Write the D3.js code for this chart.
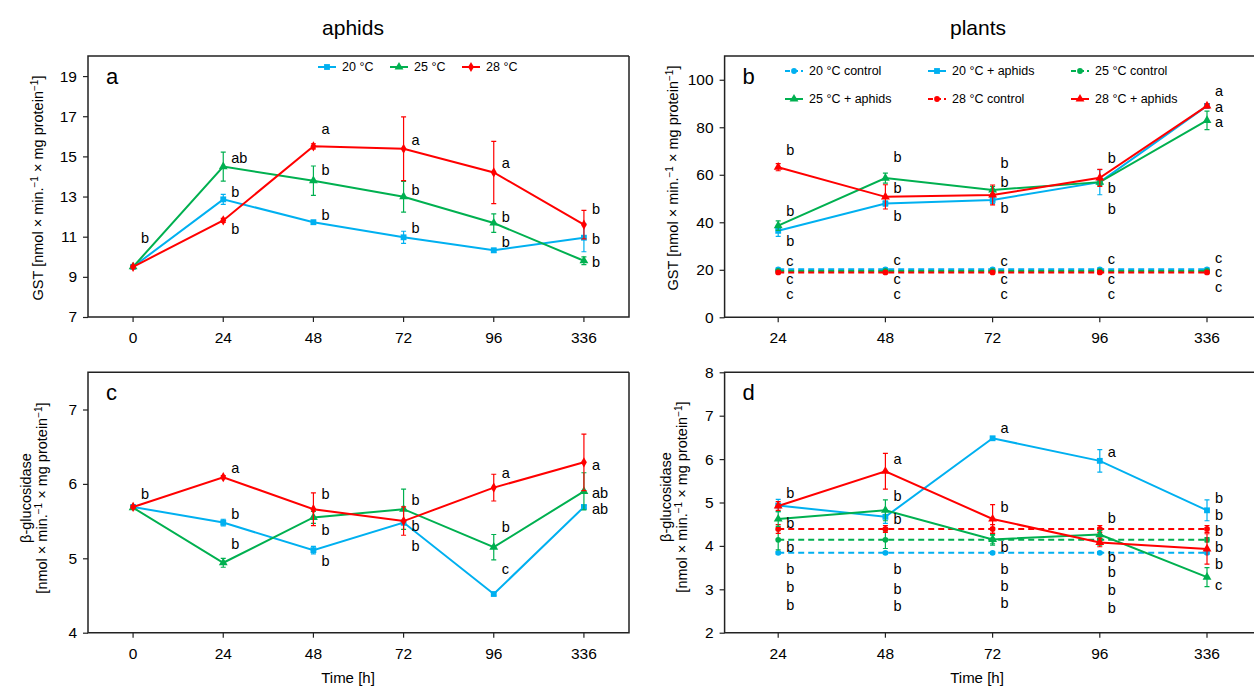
<!DOCTYPE html>
<meta charset="utf-8">
<style>
    body { margin: 0; background: #fff; }
    text { font-family: "Liberation Sans", Arial, sans-serif; fill: #000; }
    .tick text { font-size: 15px; }
    .lbl { font-size: 14.5px; }
    .leg { font-size: 12.5px; }
</style>
<body>
<svg id="chart" width="1254" height="689"></svg>
<script src="https://cdn.jsdelivr.net/npm/d3@7/dist/d3.min.js"></script>
<script>
    var aphidTimes = ["0", "24", "48", "72", "96", "336"];
    var plantTimes = ["24", "48", "72", "96", "336"];

    var blue = "#00b0f0", green = "#00b050", red = "#ff0000";

    // a: GST in aphids
    var gstAph20 = [9.5, 12.86, 11.72, 10.97, 10.32, 10.95];
    var gstAph20Err = [0.05, 0.25, 0.1, 0.3, 0.1, 0.7];
    var gstAph25 = [9.5, 14.49, 13.79, 12.99, 11.68, 9.8];
    var gstAph25Err = [0.05, 0.72, 0.73, 0.77, 0.46, 0.19];
    var gstAph28 = [9.5, 11.81, 15.5, 15.38, 14.2, 11.6];
    var gstAph28Err = [0.05, 0.1, 0.13, 1.59, 1.55, 0.71];
    var lettersA = [
        [["b", 10.92]],
        [["ab", 14.9], ["b", 13.21], ["b", 11.38]],
        [["a", 16.38], ["b", 14.32], ["b", 12.08]],
        [["a", 15.81], ["b", 13.32], ["b", 11.43]],
        [["a", 14.67], ["b", 11.98], ["b", 10.73]],
        [["b", 12.38], ["b", 10.88], ["b", 9.74]]
    ];

    // b: GST in plants
    var gstCtl20 = [20.2, 20.2, 20.2, 20.2, 20.2];
    var gstCtl20Err = [0.5, 0.5, 0.5, 0.5, 0.5];
    var gstCtl25 = [19.5, 19.5, 19.5, 19.5, 19.5];
    var gstCtl25Err = [0.5, 0.5, 0.5, 0.5, 0.5];
    var gstCtl28 = [18.9, 18.9, 18.9, 18.9, 18.9];
    var gstCtl28Err = [0.5, 0.5, 0.5, 0.5, 0.5];
    var gstPl20 = [36.4, 47.9, 49.4, 56.9, 89.0];
    var gstPl20Err = [2.3, 1.0, 1.5, 5.3, 0.8];
    var gstPl25 = [38.6, 58.6, 53.6, 56.9, 82.9];
    var gstPl25Err = [2.0, 2.1, 1.5, 1.5, 3.9];
    var gstPl28 = [63.2, 50.7, 51.5, 58.7, 89.0];
    var gstPl28Err = [1.5, 5.1, 4.2, 3.6, 0.8];
    var lettersB = [
        [["b", 70.5], ["b", 44.7], ["b", 32.2], ["c", 23.6], ["c", 16.0], ["c", 9.8]],
        [["b", 67.7], ["b", 54.6], ["b", 42.8], ["c", 24.1], ["c", 16.0], ["c", 9.8]],
        [["b", 64.9], ["b", 56.9], ["b", 46.1], ["c", 23.6], ["c", 16.0], ["c", 9.8]],
        [["b", 67.0], ["b", 54.6], ["b", 45.6], ["c", 24.4], ["c", 16.0], ["c", 9.8]],
        [["a", 95.1], ["a", 88.5], ["a", 82.2], ["c", 25.2], ["c", 19.0], ["c", 12.6]]
    ];

    // c: beta-glucosidase in aphids
    var gluAph20 = [5.69, 5.48, 5.11, 5.48, 4.52, 5.69];
    var gluAph20Err = [0.02, 0.045, 0.05, 0.03, 0.02, 0.02];
    var gluAph25 = [5.68, 4.94, 5.55, 5.66, 5.15, 5.9];
    var gluAph25Err = [0.02, 0.06, 0.08, 0.27, 0.17, 0.25];
    var gluAph28 = [5.69, 6.09, 5.66, 5.5, 5.95, 6.29];
    var gluAph28Err = [0.02, 0.02, 0.22, 0.19, 0.18, 0.38];
    var lettersC = [
        [["b", 5.86]],
        [["a", 6.21], ["b", 5.6], ["b", 5.19]],
        [["b", 5.86], ["b", 5.38], ["b", 4.96]],
        [["b", 5.79], ["b", 5.43], ["b", 5.16]],
        [["a", 6.15], ["b", 5.42], ["c", 4.86]],
        [["a", 6.26], ["ab", 5.88], ["ab", 5.66]]
    ];

    // d: beta-glucosidase in plants
    var gluCtl20 = [3.84, 3.84, 3.84, 3.84, 3.84];
    var gluCtl20Err = [0.03, 0.03, 0.03, 0.03, 0.03];
    var gluCtl25 = [4.14, 4.14, 4.14, 4.14, 4.14];
    var gluCtl25Err = [0.23, 0.2, 0.12, 0.12, 0.05];
    var gluCtl28 = [4.39, 4.39, 4.39, 4.39, 4.39];
    var gluCtl28Err = [0.1, 0.08, 0.1, 0.08, 0.08];
    var gluPl20 = [4.93, 4.67, 6.48, 5.96, 4.82];
    var gluPl20Err = [0.14, 0.15, 0.03, 0.26, 0.24];
    var gluPl25 = [4.62, 4.82, 4.15, 4.26, 3.28];
    var gluPl25Err = [0.17, 0.24, 0.1, 0.1, 0.22];
    var gluPl28 = [4.92, 5.72, 4.62, 4.08, 3.93];
    var gluPl28Err = [0.1, 0.41, 0.33, 0.1, 0.35];
    var lettersD = [
        [["b", 5.21], ["b", 4.52], ["b", 3.98], ["b", 3.48], ["b", 3.05], ["b", 2.64]],
        [["a", 6.0], ["b", 5.15], ["b", 4.62], ["b", 3.47], ["b", 3.02], ["b", 2.62]],
        [["a", 6.71], ["b", 4.9], ["b", 3.98], ["b", 3.48], ["b", 3.08], ["b", 2.68]],
        [["a", 6.17], ["b", 4.64], ["b", 3.75], ["b", 3.39], ["b", 2.98], ["b", 2.56]],
        [["b", 5.1], ["b", 4.71], ["b", 4.34], ["b", 3.97], ["b", 3.58], ["c", 3.1]]
    ];

    var svg = d3.select("#chart");

    function ser(name, vals, err, color, shape, dashed) {
        return { name: name, vals: vals, err: err, color: color, shape: shape, dashed: dashed };
    }

    var shapes = {
        square: d3.symbol().type(d3.symbolSquare).size(34),
        triangle: d3.symbol().type(d3.symbolTriangle).size(34),
        diamond: d3.symbol().type(d3.symbolDiamond).size(30),
        circle: d3.symbol().type(d3.symbolCircle).size(26)
    };

    function drawPanel(p) {
        var x = d3.scaleBand().domain(p.cats).range([p.left, p.right]);
        var y = d3.scaleLinear().domain(p.yDomain).range([p.bottom, p.top]);
        var cx = function(i) { return x(p.cats[i]) + x.bandwidth() / 2; };
        var g = svg.append("g");

        g.append("g")
            .attr("transform", "translate(" + p.left + ",0)")
            .call(d3.axisLeft(y).tickValues(p.yTicks).tickFormat(d3.format("d")).tickSize(5).tickPadding(6))
            .call(function(a) { a.select(".domain").remove(); });
        g.append("g")
            .attr("transform", "translate(0," + p.bottom + ")")
            .call(d3.axisBottom(x).tickSize(5).tickPadding(10))
            .call(function(a) { a.select(".domain").remove(); });
        g.selectAll(".tick line").attr("stroke", "#222").attr("stroke-width", 1.2);
        g.selectAll(".tick text").style("font-size", "15.5px").attr("fill", "#000");

        g.append("path")
            .attr("d", "M" + p.right + "," + p.top + "H" + p.left + "V" + p.bottom + "H" + p.right + (p.closed ? "V" + p.top : ""))
            .attr("fill", "none").attr("stroke", "#222").attr("stroke-width", 1.5);

        var line = d3.line().x(function(d, i) { return cx(i); }).y(function(d) { return y(d); });

        p.series.forEach(function(s) {
            var sg = g.append("g");
            sg.append("path")
                .attr("d", line(s.vals))
                .attr("fill", "none")
                .attr("stroke", s.color)
                .attr("stroke-width", 2)
                .attr("stroke-dasharray", s.dashed ? "6,4" : null);
            s.vals.forEach(function(v, i) {
                var e = s.err[i];
                sg.append("path")
                    .attr("d", "M" + (cx(i) - 2.5) + "," + y(v + e) + "h5M" + cx(i) + "," + y(v + e) + "V" + y(v - e) + "M" + (cx(i) - 2.5) + "," + y(v - e) + "h5")
                    .attr("stroke", s.color).attr("stroke-width", 1.2).attr("fill", "none");
            });
            sg.selectAll("path.m")
                .data(s.vals)
                .enter().append("path")
                .attr("class", "m")
                .attr("d", shapes[s.shape])
                .attr("transform", function(d, i) { return "translate(" + cx(i) + "," + y(d) + ")"; })
                .attr("fill", s.color);
        });

        p.letters.forEach(function(list, i) {
            list.forEach(function(l) {
                g.append("text")
                    .attr("class", "lbl")
                    .attr("x", cx(i) + 8)
                    .attr("y", y(l[1]))
                    .attr("dy", "0.35em")
                    .text(l[0]);
            });
        });

        g.append("text")
            .attr("x", p.left + 18)
            .attr("y", p.top + 20)
            .attr("dy", "0.35em")
            .style("font-size", "22px")
            .text(p.tag);

        // legend
        p.legend.forEach(function(it) {
            var s = it.s;
            var lg = g.append("g").attr("transform", "translate(" + it.x + "," + it.y + ")");
            lg.append("line").attr("x1", 0).attr("x2", 18).attr("y1", 0).attr("y2", 0)
                .attr("stroke", s.color).attr("stroke-width", 2)
                .attr("stroke-dasharray", s.dashed ? "5,3" : null);
            lg.append("path").attr("d", shapes[s.shape]).attr("transform", "translate(9,0)").attr("fill", s.color);
            lg.append("text").attr("class", "leg").attr("x", 24).attr("dy", "0.35em").text(s.name);
        });
    }

    function yLabel(lines, x, y) {
        var t = svg.append("text")
            .attr("transform", "translate(" + x + "," + y + ") rotate(-90)")
            .attr("text-anchor", "middle")
            .style("font-size", "14.5px");
        lines.forEach(function(parts, k) {
            var first = true;
            parts.forEach(function(pt) {
                var ts = t.append("tspan").text(pt[0]);
                if (first) { ts.attr("x", 0).attr("dy", k === 0 ? (lines.length > 1 ? "-0.3em" : "0.35em") : "1.15em"); first = false; }
                if (pt[1]) {
                    ts.style("font-size", "10px").attr("baseline-shift", "super");
                }
            });
        });
    }

    var unitParts = [["[nmol × min."], ["−1", true], [" × mg protein"], ["−1", true], ["]"]];

    var a20 = ser("20 °C", gstAph20, gstAph20Err, blue, "square"),
        a25 = ser("25 °C", gstAph25, gstAph25Err, green, "triangle"),
        a28 = ser("28 °C", gstAph28, gstAph28Err, red, "diamond");
    drawPanel({
        left: 88, right: 629, top: 56, bottom: 317, closed: true,
        cats: aphidTimes, yDomain: [7, 20], yTicks: [7, 9, 11, 13, 15, 17, 19],
        series: [a20, a25, a28], letters: lettersA, tag: "a",
        legend: [{ s: a20, x: 318, y: 67 }, { s: a25, x: 390, y: 67 }, { s: a28, x: 462, y: 67 }]
    });

    var b20c = ser("20 °C control", gstCtl20, gstCtl20Err, blue, "circle", true),
        b25c = ser("25 °C control", gstCtl25, gstCtl25Err, green, "circle", true),
        b28c = ser("28 °C control", gstCtl28, gstCtl28Err, red, "circle", true),
        b20 = ser("20 °C + aphids", gstPl20, gstPl20Err, blue, "square"),
        b25 = ser("25 °C + aphids", gstPl25, gstPl25Err, green, "triangle"),
        b28 = ser("28 °C + aphids", gstPl28, gstPl28Err, red, "triangle");
    drawPanel({
        left: 724.6, right: 1260.6, top: 56, bottom: 317.3, closed: false,
        cats: plantTimes, yDomain: [0, 110], yTicks: [0, 20, 40, 60, 80, 100],
        series: [b20c, b25c, b28c, b20, b25, b28], letters: lettersB, tag: "b",
        legend: [{ s: b20c, x: 785, y: 71 }, { s: b20, x: 928, y: 71 }, { s: b25c, x: 1071, y: 71 },
                 { s: b25, x: 785, y: 99 }, { s: b28c, x: 928, y: 99 }, { s: b28, x: 1071, y: 99 }]
    });

    var c20 = ser("20 °C", gluAph20, gluAph20Err, blue, "square"),
        c25 = ser("25 °C", gluAph25, gluAph25Err, green, "triangle"),
        c28 = ser("28 °C", gluAph28, gluAph28Err, red, "diamond");
    drawPanel({
        left: 88, right: 629, top: 372.3, bottom: 632.7, closed: true,
        cats: aphidTimes, yDomain: [4, 7.5], yTicks: [4, 5, 6, 7],
        series: [c20, c25, c28], letters: lettersC, tag: "c", legend: []
    });

    var d20c = ser("20 °C control", gluCtl20, gluCtl20Err, blue, "circle", true),
        d25c = ser("25 °C control", gluCtl25, gluCtl25Err, green, "circle", true),
        d28c = ser("28 °C control", gluCtl28, gluCtl28Err, red, "circle", true),
        d20 = ser("20 °C + aphids", gluPl20, gluPl20Err, blue, "square"),
        d25 = ser("25 °C + aphids", gluPl25, gluPl25Err, green, "triangle"),
        d28 = ser("28 °C + aphids", gluPl28, gluPl28Err, red, "triangle");
    drawPanel({
        left: 724.6, right: 1260.6, top: 372.3, bottom: 632.7, closed: false,
        cats: plantTimes, yDomain: [2, 8], yTicks: [2, 3, 4, 5, 6, 7, 8],
        series: [d20c, d25c, d28c, d20, d25, d28], letters: lettersD, tag: "d", legend: []
    });

    yLabel([[["GST "]].concat(unitParts)], 38, 188);
    yLabel([[["GST "]].concat(unitParts)], 673, 178);
    yLabel([[["β-glucosidase"]], unitParts], 35, 498);
    yLabel([[["β-glucosidase"]], unitParts], 675, 497);

    svg.append("text").attr("x", 353).attr("y", 28).attr("dy", "0.35em").attr("text-anchor", "middle")
        .style("font-size", "21px").text("aphids");
    svg.append("text").attr("x", 978).attr("y", 28).attr("dy", "0.35em").attr("text-anchor", "middle")
        .style("font-size", "21px").text("plants");
    svg.append("text").attr("x", 348).attr("y", 678).attr("dy", "0.35em").attr("text-anchor", "middle")
        .style("font-size", "15px").text("Time [h]");
    svg.append("text").attr("x", 977).attr("y", 678).attr("dy", "0.35em").attr("text-anchor", "middle")
        .style("font-size", "15px").text("Time [h]");
</script>
</body>
